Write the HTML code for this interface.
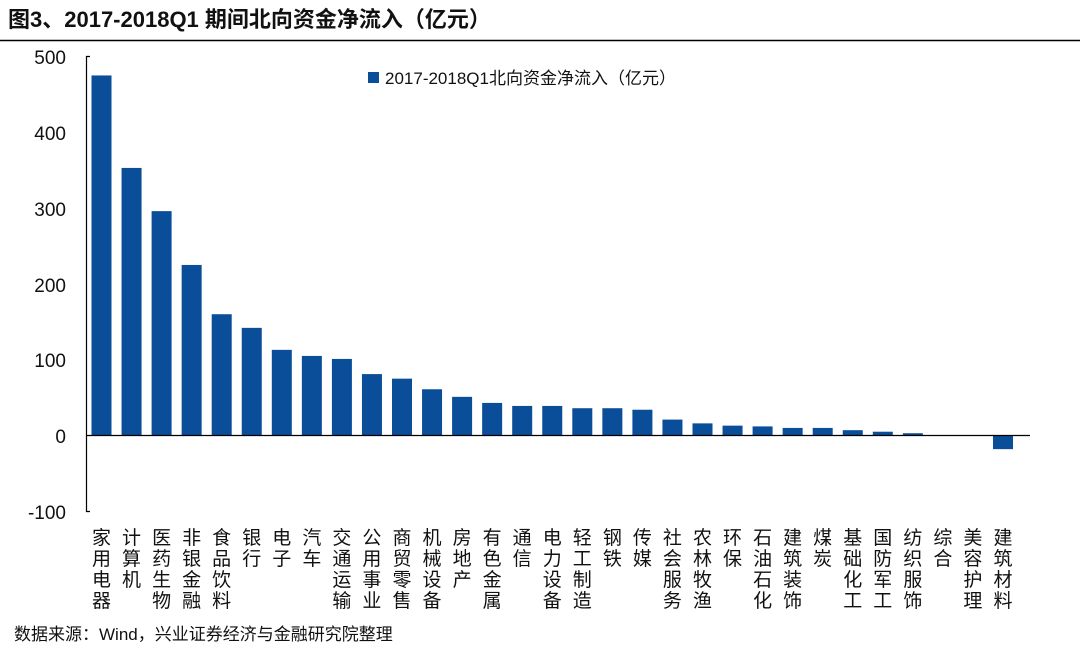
<!DOCTYPE html><html><head><meta charset="utf-8"><style>body{margin:0;background:#fff;position:relative;width:1080px;height:647px;overflow:hidden}svg{display:block;position:absolute;left:0;top:0}text{font-family:"Liberation Sans","Noto Sans CJK SC",sans-serif}
.l{position:absolute;top:528px;width:22px;font:19px/21px "Liberation Sans","Noto Sans CJK SC",sans-serif;color:#111;text-align:center;word-break:break-all}</style></head><body>
<svg width="1080" height="647" xmlns="http://www.w3.org/2000/svg">
<text x="8" y="27" font-size="22" font-weight="bold" fill="#111">图3、2017-2018Q1 期间北向资金净流入（亿元）</text>
<line x1="0" y1="40.5" x2="1080" y2="40.5" stroke="#000" stroke-width="1.5"/>
<g font-size="19" fill="#111" text-anchor="end">
<text x="66" y="64">500</text><text x="66" y="140">400</text><text x="66" y="216">300</text><text x="66" y="292">200</text><text x="66" y="367">100</text><text x="66" y="443">0</text><text x="66" y="519">-100</text>
</g>
<path d="M90 56.5H86.5V511.5H90" fill="none" stroke="#000" stroke-width="1.2"/>
<g fill="#0a4d99">
<rect x="91.5" y="75.45" width="20" height="360.05"/>
<rect x="121.55" y="167.93" width="20" height="267.57"/>
<rect x="151.6" y="211.13" width="20" height="224.37"/>
<rect x="181.65" y="264.95" width="20" height="170.55"/>
<rect x="211.7" y="314.22" width="20" height="121.28"/>
<rect x="241.75" y="327.86" width="20" height="107.64"/>
<rect x="271.8" y="349.85" width="20" height="85.65"/>
<rect x="301.85" y="355.91" width="20" height="79.59"/>
<rect x="331.9" y="358.94" width="20" height="76.56"/>
<rect x="361.95" y="374.1" width="20" height="61.4"/>
<rect x="392" y="378.65" width="20" height="56.85"/>
<rect x="422.05" y="389.26" width="20" height="46.24"/>
<rect x="452.1" y="396.84" width="20" height="38.66"/>
<rect x="482.15" y="402.91" width="20" height="32.59"/>
<rect x="512.2" y="405.94" width="20" height="29.56"/>
<rect x="542.25" y="405.94" width="20" height="29.56"/>
<rect x="572.3" y="408.21" width="20" height="27.29"/>
<rect x="602.35" y="408.21" width="20" height="27.29"/>
<rect x="632.4" y="409.73" width="20" height="25.77"/>
<rect x="662.45" y="419.58" width="20" height="15.92"/>
<rect x="692.5" y="423.37" width="20" height="12.13"/>
<rect x="722.55" y="425.65" width="20" height="9.85"/>
<rect x="752.6" y="426.4" width="20" height="9.1"/>
<rect x="782.65" y="427.92" width="20" height="7.58"/>
<rect x="812.7" y="427.92" width="20" height="7.58"/>
<rect x="842.75" y="430.19" width="20" height="5.31"/>
<rect x="872.8" y="431.71" width="20" height="3.79"/>
<rect x="902.85" y="433.23" width="20" height="2.27"/>
<rect x="932.9" y="435" width="20" height="0.5"/>
<rect x="962.95" y="435" width="20" height="0.5"/>
<rect x="993" y="435.5" width="20" height="13.64"/>
</g>
<line x1="86" y1="435.5" x2="1030" y2="435.5" stroke="#000" stroke-width="1.2"/>
<rect x="368" y="72" width="11" height="11" fill="#0a4d99"/>
<text x="385" y="84" font-size="17" fill="#111">2017-2018Q1北向资金净流入（亿元）</text>
<text x="14" y="640" font-size="17" fill="#111">数据来源：Wind，兴业证券经济与金融研究院整理</text>
</svg>
<div class="l" style="left:90.5px">家用电器</div>
<div class="l" style="left:120.55px">计算机</div>
<div class="l" style="left:150.6px">医药生物</div>
<div class="l" style="left:180.65px">非银金融</div>
<div class="l" style="left:210.7px">食品饮料</div>
<div class="l" style="left:240.75px">银行</div>
<div class="l" style="left:270.8px">电子</div>
<div class="l" style="left:300.85px">汽车</div>
<div class="l" style="left:330.9px">交通运输</div>
<div class="l" style="left:360.95px">公用事业</div>
<div class="l" style="left:391px">商贸零售</div>
<div class="l" style="left:421.05px">机械设备</div>
<div class="l" style="left:451.1px">房地产</div>
<div class="l" style="left:481.15px">有色金属</div>
<div class="l" style="left:511.2px">通信</div>
<div class="l" style="left:541.25px">电力设备</div>
<div class="l" style="left:571.3px">轻工制造</div>
<div class="l" style="left:601.35px">钢铁</div>
<div class="l" style="left:631.4px">传媒</div>
<div class="l" style="left:661.45px">社会服务</div>
<div class="l" style="left:691.5px">农林牧渔</div>
<div class="l" style="left:721.55px">环保</div>
<div class="l" style="left:751.6px">石油石化</div>
<div class="l" style="left:781.65px">建筑装饰</div>
<div class="l" style="left:811.7px">煤炭</div>
<div class="l" style="left:841.75px">基础化工</div>
<div class="l" style="left:871.8px">国防军工</div>
<div class="l" style="left:901.85px">纺织服饰</div>
<div class="l" style="left:931.9px">综合</div>
<div class="l" style="left:961.95px">美容护理</div>
<div class="l" style="left:992px">建筑材料</div>
</body></html>
